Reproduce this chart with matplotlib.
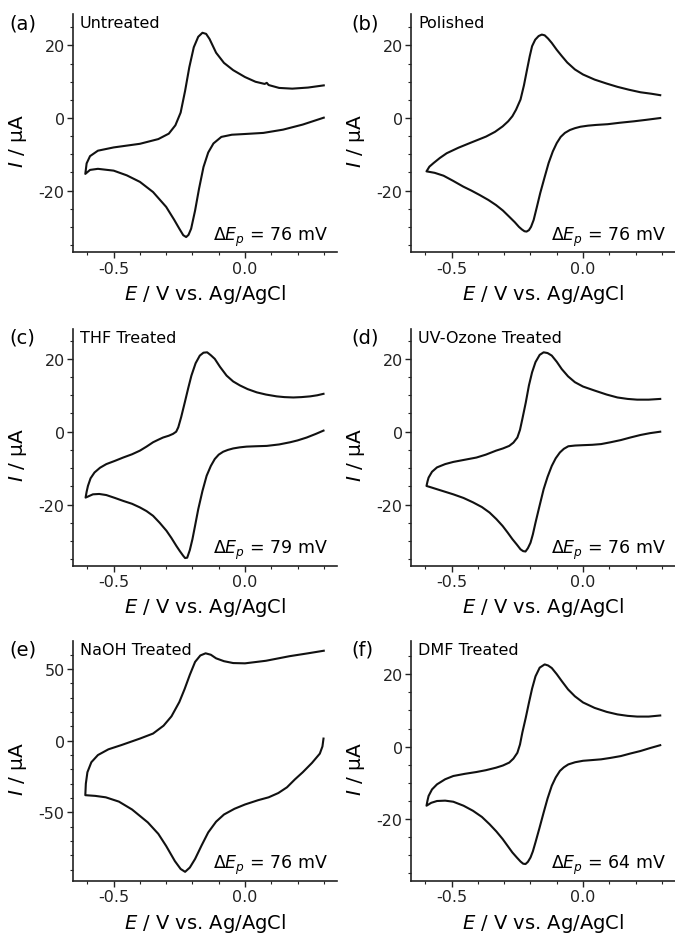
"""Cyclic voltammograms of the six electrode treatments."""

import matplotlib

matplotlib.use("Agg")
import matplotlib.pyplot as plt
from matplotlib.ticker import MultipleLocator

# E / V vs. Ag/AgCl and I / uA.
# Each trace starts at +0.3 V on the return scan, runs to the -0.6 V vertex,
# then back up along the forward scan.
untreated_E = [0.30, 0.22, 0.145, 0.07, 0.0, -0.05, -0.09, -0.12, -0.14, -0.158, -0.175, -0.19,
               -0.205, -0.215, -0.224, -0.235, -0.25, -0.27, -0.30, -0.35, -0.40, -0.45, -0.50,
               -0.56, -0.59, -0.608, -0.603, -0.59, -0.56, -0.50, -0.40, -0.33, -0.29, -0.265,
               -0.245, -0.228, -0.212, -0.195, -0.178, -0.162, -0.148, -0.135, -0.11, -0.08,
               -0.045, 0.0, 0.04, 0.075, 0.083, 0.09, 0.13, 0.18, 0.24, 0.30]
untreated_I = [0.1, -1.8, -3.2, -4.1, -4.4, -4.6, -5.2, -7.0, -9.5, -13.5, -19.5, -25.5,
               -30.5, -32.2, -32.8, -32.3, -30.5, -28.0, -24.5, -20.4, -17.6, -15.8, -14.5,
               -14.0, -14.3, -15.4, -12.5, -10.5, -9.0, -8.1, -7.1, -5.8, -4.3, -2.0,
               1.5, 7.5, 14.0, 19.5, 22.4, 23.5, 23.2, 21.8, 18.0, 15.2,
               13.2, 11.3, 10.0, 9.4, 9.7, 9.1, 8.3, 8.1, 8.4, 9.0]

polished_E = [0.294, 0.24, 0.194, 0.14, 0.094, 0.05, 0.019, -0.01, -0.031, -0.05, -0.069, -0.085,
              -0.10, -0.115, -0.131, -0.147, -0.163, -0.176, -0.188, -0.198, -0.206, -0.215,
              -0.223, -0.233, -0.244, -0.26, -0.281, -0.305, -0.331, -0.36, -0.394, -0.425,
              -0.456, -0.495, -0.531, -0.565, -0.596,
              -0.585, -0.569, -0.545, -0.519, -0.475, -0.431, -0.40, -0.369, -0.335, -0.306,
              -0.285, -0.269, -0.255, -0.238, -0.225, -0.213, -0.203, -0.194, -0.182, -0.169,
              -0.157, -0.146, -0.133, -0.119, -0.10, -0.081, -0.06, -0.031, 0.0, 0.044, 0.09,
              0.131, 0.175, 0.219, 0.26, 0.294]
polished_I = [0.0, -0.5, -0.9, -1.3, -1.7, -1.9, -2.1, -2.4, -2.8, -3.3, -4.1, -5.2,
              -6.9, -9.2, -12.4, -16.5, -20.7, -24.6, -28.1, -30.0, -30.9, -31.3,
              -31.2, -30.7, -30.0, -28.7, -27.2, -25.5, -24.0, -22.6, -21.2, -20.0,
              -18.9, -17.3, -15.9, -15.1, -14.7,
              -13.4, -12.4, -11.0, -9.7, -8.2, -6.9, -6.0, -5.1, -3.8, -2.3,
              -0.9, 0.5, 2.3, 5.1, 9.0, 13.4, 17.0, 19.8, 21.6, 22.6,
              23.0, 22.8, 21.9, 20.7, 18.8, 17.1, 15.3, 13.4, 12.0, 10.6, 9.5,
              8.6, 7.8, 7.1, 6.7, 6.3]

thf_E = [0.299, 0.27, 0.235, 0.2, 0.172, 0.13, 0.083, 0.04, 0.006, -0.02, -0.045, -0.065,
         -0.083, -0.1, -0.115, -0.13, -0.146, -0.162, -0.178, -0.19, -0.20, -0.21, -0.22,
         -0.228, -0.235, -0.248, -0.261, -0.28, -0.299, -0.325, -0.35, -0.375, -0.40, -0.43,
         -0.464, -0.495, -0.528, -0.555, -0.579, -0.607,
         -0.603, -0.598, -0.588, -0.573, -0.552, -0.528, -0.495, -0.464, -0.43, -0.40, -0.375,
         -0.35, -0.33, -0.312, -0.29, -0.274, -0.262, -0.254, -0.243, -0.229, -0.216, -0.204,
         -0.188, -0.172, -0.158, -0.144, -0.13, -0.115, -0.095, -0.07, -0.045, -0.019, 0.01,
         0.045, 0.08, 0.121, 0.15, 0.184, 0.215, 0.248, 0.275, 0.299]
thf_I = [0.3, -0.6, -1.6, -2.4, -2.9, -3.5, -3.9, -4.0, -4.1, -4.3, -4.6, -5.0,
         -5.5, -6.3, -7.5, -9.4, -12.1, -16.3, -21.3, -25.8, -29.5, -32.5, -34.6,
         -34.7, -34.1, -32.8, -31.4, -29.2, -27.2, -25.0, -23.1, -21.8, -20.8, -19.8,
         -19.0, -18.2, -17.4, -17.1, -17.2, -18.1,
         -16.5, -14.9, -12.8, -11.2, -9.9, -8.9, -8.0, -7.1, -6.2, -5.2, -4.1,
         -2.9, -2.2, -1.6, -1.1, -0.6, 0.0, 1.2, 4.0, 8.1, 12.0, 15.4,
         18.8, 20.9, 21.7, 21.8, 21.0, 20.0, 17.8, 15.4, 13.8, 12.7, 11.7,
         10.8, 10.2, 9.7, 9.5, 9.4, 9.5, 9.7, 10.0, 10.4]

uvozone_E = [0.294, 0.255, 0.219, 0.18, 0.144, 0.105, 0.069, 0.035, 0.0, -0.03, -0.056, -0.073,
             -0.088, -0.104, -0.119, -0.135, -0.15, -0.166, -0.181, -0.191, -0.2, -0.21, -0.219,
             -0.228, -0.238, -0.252, -0.269, -0.287, -0.306, -0.33, -0.356, -0.385, -0.419,
             -0.455, -0.494, -0.525, -0.556, -0.578, -0.596,
             -0.592, -0.588, -0.575, -0.556, -0.525, -0.494, -0.45, -0.406, -0.37, -0.331,
             -0.305, -0.281, -0.265, -0.25, -0.24, -0.231, -0.218, -0.206, -0.194, -0.181,
             -0.165, -0.15, -0.135, -0.119, -0.10, -0.081, -0.057, -0.031, 0.0, 0.044, 0.09,
             0.131, 0.17, 0.206, 0.25, 0.294]
uvozone_I = [0.0, -0.4, -0.9, -1.6, -2.3, -2.9, -3.4, -3.6, -3.7, -3.8, -4.0, -4.7,
             -5.7, -7.3, -9.4, -12.4, -15.8, -20.5, -25.0, -28.2, -30.5, -32.0, -32.9,
             -32.8, -32.3, -31.0, -29.5, -27.7, -25.9, -24.0, -22.2, -20.7, -19.4,
             -18.2, -17.2, -16.5, -15.8, -15.3, -14.9,
             -13.6, -12.6, -11.0, -9.8, -8.9, -8.3, -7.7, -7.1, -6.3, -5.2,
             -4.6, -3.9, -3.0, -1.6, 0.5, 3.5, 8.0, 12.7, 16.3, 19.1,
             21.1, 21.8, 21.6, 20.9, 19.2, 17.2, 15.2, 13.6, 12.4, 11.3, 10.2,
             9.4, 9.0, 8.8, 8.8, 9.0]

naoh_E = [0.299, 0.295, 0.285, 0.255, 0.22, 0.19, 0.16, 0.127, 0.09, 0.05, 0.0, -0.04, -0.08,
          -0.11, -0.14, -0.165, -0.19, -0.21, -0.228, -0.245, -0.267, -0.30, -0.33, -0.37,
          -0.43, -0.48, -0.53, -0.57, -0.608, -0.606, -0.60, -0.585, -0.56, -0.52, -0.47,
          -0.40, -0.35, -0.31, -0.28, -0.25, -0.23, -0.21, -0.19, -0.17, -0.15, -0.13, -0.11,
          -0.08, -0.045, 0.0, 0.08, 0.17, 0.24, 0.30]
naoh_I = [1.5, -4.0, -9.0, -15.5, -22.0, -27.0, -32.5, -36.5, -39.5, -41.5, -44.5, -47.5, -51.5,
          -56.5, -64.0, -73.0, -82.5, -88.5, -91.5, -89.5, -84.0, -73.5, -65.0, -57.0,
          -48.0, -42.5, -39.5, -38.5, -38.0, -30.0, -22.0, -15.0, -10.0, -6.0, -3.0,
          1.5, 5.0, 10.5, 17.0, 27.0, 36.0, 46.0, 55.0, 59.5, 61.0, 60.0, 57.5,
          55.5, 54.2, 54.0, 55.8, 59.0, 61.0, 62.8]

dmf_E = [0.294, 0.255, 0.219, 0.18, 0.144, 0.105, 0.069, 0.035, 0.0, -0.03, -0.056, -0.073,
         -0.088, -0.104, -0.119, -0.135, -0.15, -0.166, -0.181, -0.191, -0.2, -0.21, -0.219,
         -0.228, -0.238, -0.252, -0.269, -0.287, -0.306, -0.33, -0.356, -0.385, -0.419,
         -0.455, -0.494, -0.525, -0.556, -0.578, -0.596,
         -0.592, -0.588, -0.575, -0.556, -0.525, -0.494, -0.45, -0.406, -0.37, -0.331,
         -0.305, -0.281, -0.265, -0.25, -0.24, -0.231, -0.218, -0.206, -0.194, -0.181,
         -0.165, -0.146, -0.133, -0.119, -0.10, -0.081, -0.057, -0.031, 0.0, 0.044, 0.09,
         0.131, 0.17, 0.206, 0.25, 0.294]
dmf_I = [0.4, -0.4, -1.2, -1.9, -2.6, -3.1, -3.5, -3.7, -3.9, -4.3, -4.9, -5.7,
         -6.7, -8.5, -10.8, -14.3, -18.2, -22.5, -26.4, -28.9, -30.6, -31.8, -32.4,
         -32.3, -31.7, -30.6, -29.2, -27.4, -25.5, -23.4, -21.4, -19.4, -17.7,
         -16.3, -15.2, -14.9, -15.0, -15.5, -16.3,
         -14.8, -13.6, -11.8, -10.4, -9.0, -8.1, -7.5, -7.0, -6.5, -5.8,
         -5.2, -4.4, -3.3, -1.7, 0.6, 3.9, 8.0, 12.1, 16.0, 19.4,
         21.8, 22.7, 22.4, 21.7, 20.0, 18.1, 15.8, 13.9, 12.2, 10.7, 9.6,
         8.9, 8.5, 8.3, 8.3, 8.6]

letters = ["(a)", "(b)", "(c)", "(d)", "(e)", "(f)"]
names = ["Untreated", "Polished", "THF Treated", "UV-Ozone Treated", "NaOH Treated", "DMF Treated"]
peak_separation_mV = [76, 76, 79, 76, 76, 64]

plt.rcParams["font.family"] = "DejaVu Sans"
plt.rcParams["mathtext.fontset"] = "dejavusans"
plt.rcParams["axes.unicode_minus"] = False


def draw_panel(ax, E, I, letter, name, dEp, ylim, major, minor, left_col):
    ax.plot(E, I, color="#111111", linewidth=1.5, solid_joinstyle="round")
    ax.set_xlim(-0.655, 0.35)
    ax.set_ylim(*ylim)
    ax.xaxis.set_major_locator(MultipleLocator(0.5))
    ax.xaxis.set_minor_locator(MultipleLocator(0.1))
    ax.yaxis.set_major_locator(MultipleLocator(major))
    ax.yaxis.set_minor_locator(MultipleLocator(minor))
    ax.xaxis.set_major_formatter(lambda v, _: f"{v:.1f}")
    for side in ("top", "right"):
        ax.spines[side].set_visible(False)
    for side in ("left", "bottom"):
        ax.spines[side].set_linewidth(1.2)
        ax.spines[side].set_color("#222222")
    ax.tick_params(which="major", direction="out", length=4, width=1, labelsize=11.5,
                   colors="#222222", pad=2)
    ax.tick_params(which="minor", direction="out", length=2.2, width=0.8, colors="#222222")

    ax.set_xlabel("$E$ / V vs. Ag/AgCl", fontsize=14)
    ax.set_ylabel("$I$ / µA", fontsize=14.5)
    ax.xaxis.set_label_coords(0.5, -0.125)
    ax.yaxis.set_label_coords(-0.165, 0.47)

    ax.text(-0.24 if left_col else -0.225, 0.965, letter, transform=ax.transAxes,
            ha="left", va="center", fontsize=14)
    ax.text(0.027, 0.965, name, transform=ax.transAxes, ha="left", va="center", fontsize=11.5)
    ax.text(0.965, 0.052, f"Δ$E_p$ = {dEp} mV", transform=ax.transAxes,
            ha="right", va="baseline", fontsize=12.5)


fig = plt.figure(figsize=(6.75, 9.37), dpi=100)
lefts = [0.1081, 0.6089]
rows = [(0.7297, 0.254), (0.3952, 0.2526), (0.059, 0.256)]
width = 0.391

traces = [(untreated_E, untreated_I), (polished_E, polished_I), (thf_E, thf_I),
          (uvozone_E, uvozone_I), (naoh_E, naoh_I), (dmf_E, dmf_I)]
ylims = [(-37.0, 28.6), (-37.0, 28.6), (-36.8, 28.2), (-36.8, 28.2), (-97.7, 69.7), (-37.0, 29.2)]

for k, (E, I) in enumerate(traces):
    row, col = divmod(k, 2)
    bottom, height = rows[row]
    ax = fig.add_axes([lefts[col], bottom, width, height])
    naoh = k == 4
    draw_panel(ax, E, I, letters[k], names[k], peak_separation_mV[k], ylims[k],
               50 if naoh else 20, 10 if naoh else 5, col == 0)

fig.savefig("out.png", dpi=100)
